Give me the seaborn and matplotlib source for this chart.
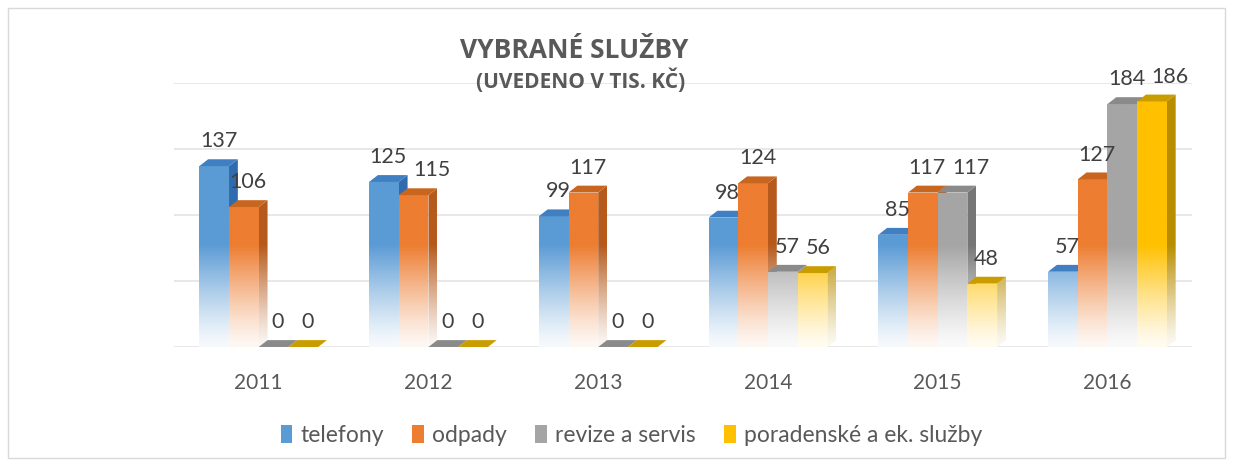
import numpy as np
import pandas as pd
import matplotlib
matplotlib.use("Agg")
import matplotlib.pyplot as plt
import matplotlib.patches as mpatches
from matplotlib.colors import to_rgb
import seaborn as sns

# data
roky = ["2011", "2012", "2013", "2014", "2015", "2016"]
sluzby = ["telefony", "odpady", "revize a servis", "poradenské a ek. služby"]
telefony = [137, 125, 99, 98, 85, 57]
odpady = [106, 115, 117, 124, 117, 127]
revize = [0, 0, 0, 57, 117, 184]
poradenske = [0, 0, 0, 56, 48, 186]

barvy = ["#5B9BD5", "#ED7D31", "#A5A5A5", "#FFC000"]
barvy_bok = ["#2F6CAE", "#B65A1C", "#767676", "#B88D00"]
barvy_vrch = ["#3F7FC2", "#C8661F", "#8A8A8A", "#C99C00"]

df = pd.DataFrame({
    "rok": roky * 4,
    "sluzba": np.repeat(sluzby, len(roky)),
    "hodnota": telefony + odpady + revize + poradenske,
})

sns.set_style("white")
plt.rcParams["font.family"] = ["Lato", "DejaVu Sans"]

fig = plt.figure(figsize=(12.33, 4.66), dpi=100)
ax = fig.add_axes([0.141, 0.2554, 0.826, 0.5666])

sns.barplot(data=df, x="rok", y="hodnota", hue="sluzba", hue_order=sluzby,
            palette=barvy, width=0.7, legend=False, ax=ax)

YMAX = 200
DX = 0.052
DY = 5.2
LBL_FS = 15.5
yy = np.linspace(0, YMAX + 10, 500)


def gradient(color):
    c = np.array(to_rgb(color))
    f = np.clip((yy - 2) / 75.0, 0, 1) ** 1.2
    f = 0.06 + 0.94 * f
    img = (1 - f)[:, None] * np.ones(3) + f[:, None] * c
    return img[:, None, :]


def fill_poly(poly, color, z):
    poly.set_facecolor("none")
    poly.set_edgecolor("none")
    poly.set_zorder(z)
    ax.add_patch(poly)
    xs = poly.get_xy()[:, 0]
    im = ax.imshow(gradient(color), extent=[xs.min(), xs.max(), 0, YMAX + 10],
                   origin="lower", aspect="auto", zorder=z, interpolation="bilinear")
    im.set_clip_path(poly)


popisky = {}  # rok -> list of (text, x, h)
for j, cont in enumerate(ax.containers):
    for i, bar in enumerate(cont):
        x0 = bar.get_x()
        w = bar.get_width()
        x1 = x0 + w
        h = bar.get_height()
        zf = 2 + j * 0.1 + 0.01
        zs = 2 + j * 0.1 + 0.02
        bar.set_visible(False)
        if h > 0:
            front = mpatches.Polygon([(x0, 0), (x1, 0), (x1, h), (x0, h)], closed=True)
            fill_poly(front, barvy[j], zf)
            side = mpatches.Polygon([(x1, 0), (x1 + DX, DY), (x1 + DX, h + DY), (x1, h)], closed=True)
            fill_poly(side, barvy_bok[j], zs)
        top = mpatches.Polygon([(x0, h), (x1, h), (x1 + DX, h + DY), (x0 + DX, h + DY)],
                               closed=True, facecolor=barvy_vrch[j], edgecolor="none", zorder=zs)
        ax.add_patch(top)
        xt = x0 + w / 2 + DX / 2
        t = ax.text(xt, h + DY + 6, f"{int(h)}", ha="center", va="bottom",
                    fontsize=LBL_FS, color="#404040", zorder=5)
        popisky.setdefault(i, []).append([t, xt, h])

# posunout popisky, ktere by se prekryvaly (jako v Excelu)
px_per_cat = 0.826 * 1233 / 6
digit_w = 0.58 * LBL_FS * 100 / 72 / px_per_cat
for i, lst in popisky.items():
    for k in range(1, len(lst)):
        t, xt, h = lst[k]
        tp, xp, hp = lst[k - 1]
        if h > 0 and hp > 0 and abs(h - hp) < 14:
            need = (len(str(int(h))) + len(str(int(hp)))) * digit_w / 2 + 0.035
            if xt - xp < need:
                xt = xp + need
                lst[k][1] = xt
                t.set_x(xt)

ax.set_ylim(0, YMAX)
ax.set_xlim(-0.5, 5.5)
ax.set_yticks([0, 50, 100, 150, 200])
ax.set_yticklabels([])
ax.yaxis.grid(True, color="#E4E4E4", linewidth=1.2)
ax.set_axisbelow(True)
ax.tick_params(axis="x", length=0, pad=19, labelsize=15, labelcolor="#595959")
ax.tick_params(axis="y", length=0)
ax.set_xlabel("")
ax.set_ylabel("")
for s in ax.spines.values():
    s.set_visible(False)

fig.text(0.466, 0.891, "VYBRANÉ SLUŽBY", ha="center", va="center",
         fontsize=19, fontweight="bold", color="#595959", family=["Open Sans", "DejaVu Sans"])
fig.text(0.471, 0.826, "(UVEDENO V TIS. KČ)", ha="center", va="center",
         fontsize=15, fontweight="bold", color="#595959", family=["Open Sans", "DejaVu Sans"])

handles = [mpatches.Patch(facecolor=c, edgecolor="none") for c in barvy]
fig.legend(handles, sluzby, loc="center", bbox_to_anchor=(0.512, 0.066), ncol=4,
           frameon=False, fontsize=16.5, handlelength=0.5, handleheight=0.8,
           handletextpad=0.35, columnspacing=1.25, labelcolor="#595959")

fig.patches.append(mpatches.Rectangle((0.0065, 0.017), 0.987, 0.966, transform=fig.transFigure,
                                      fill=False, edgecolor="#D9D9D9", linewidth=1))

fig.savefig("out.png", dpi=100, facecolor="white")
